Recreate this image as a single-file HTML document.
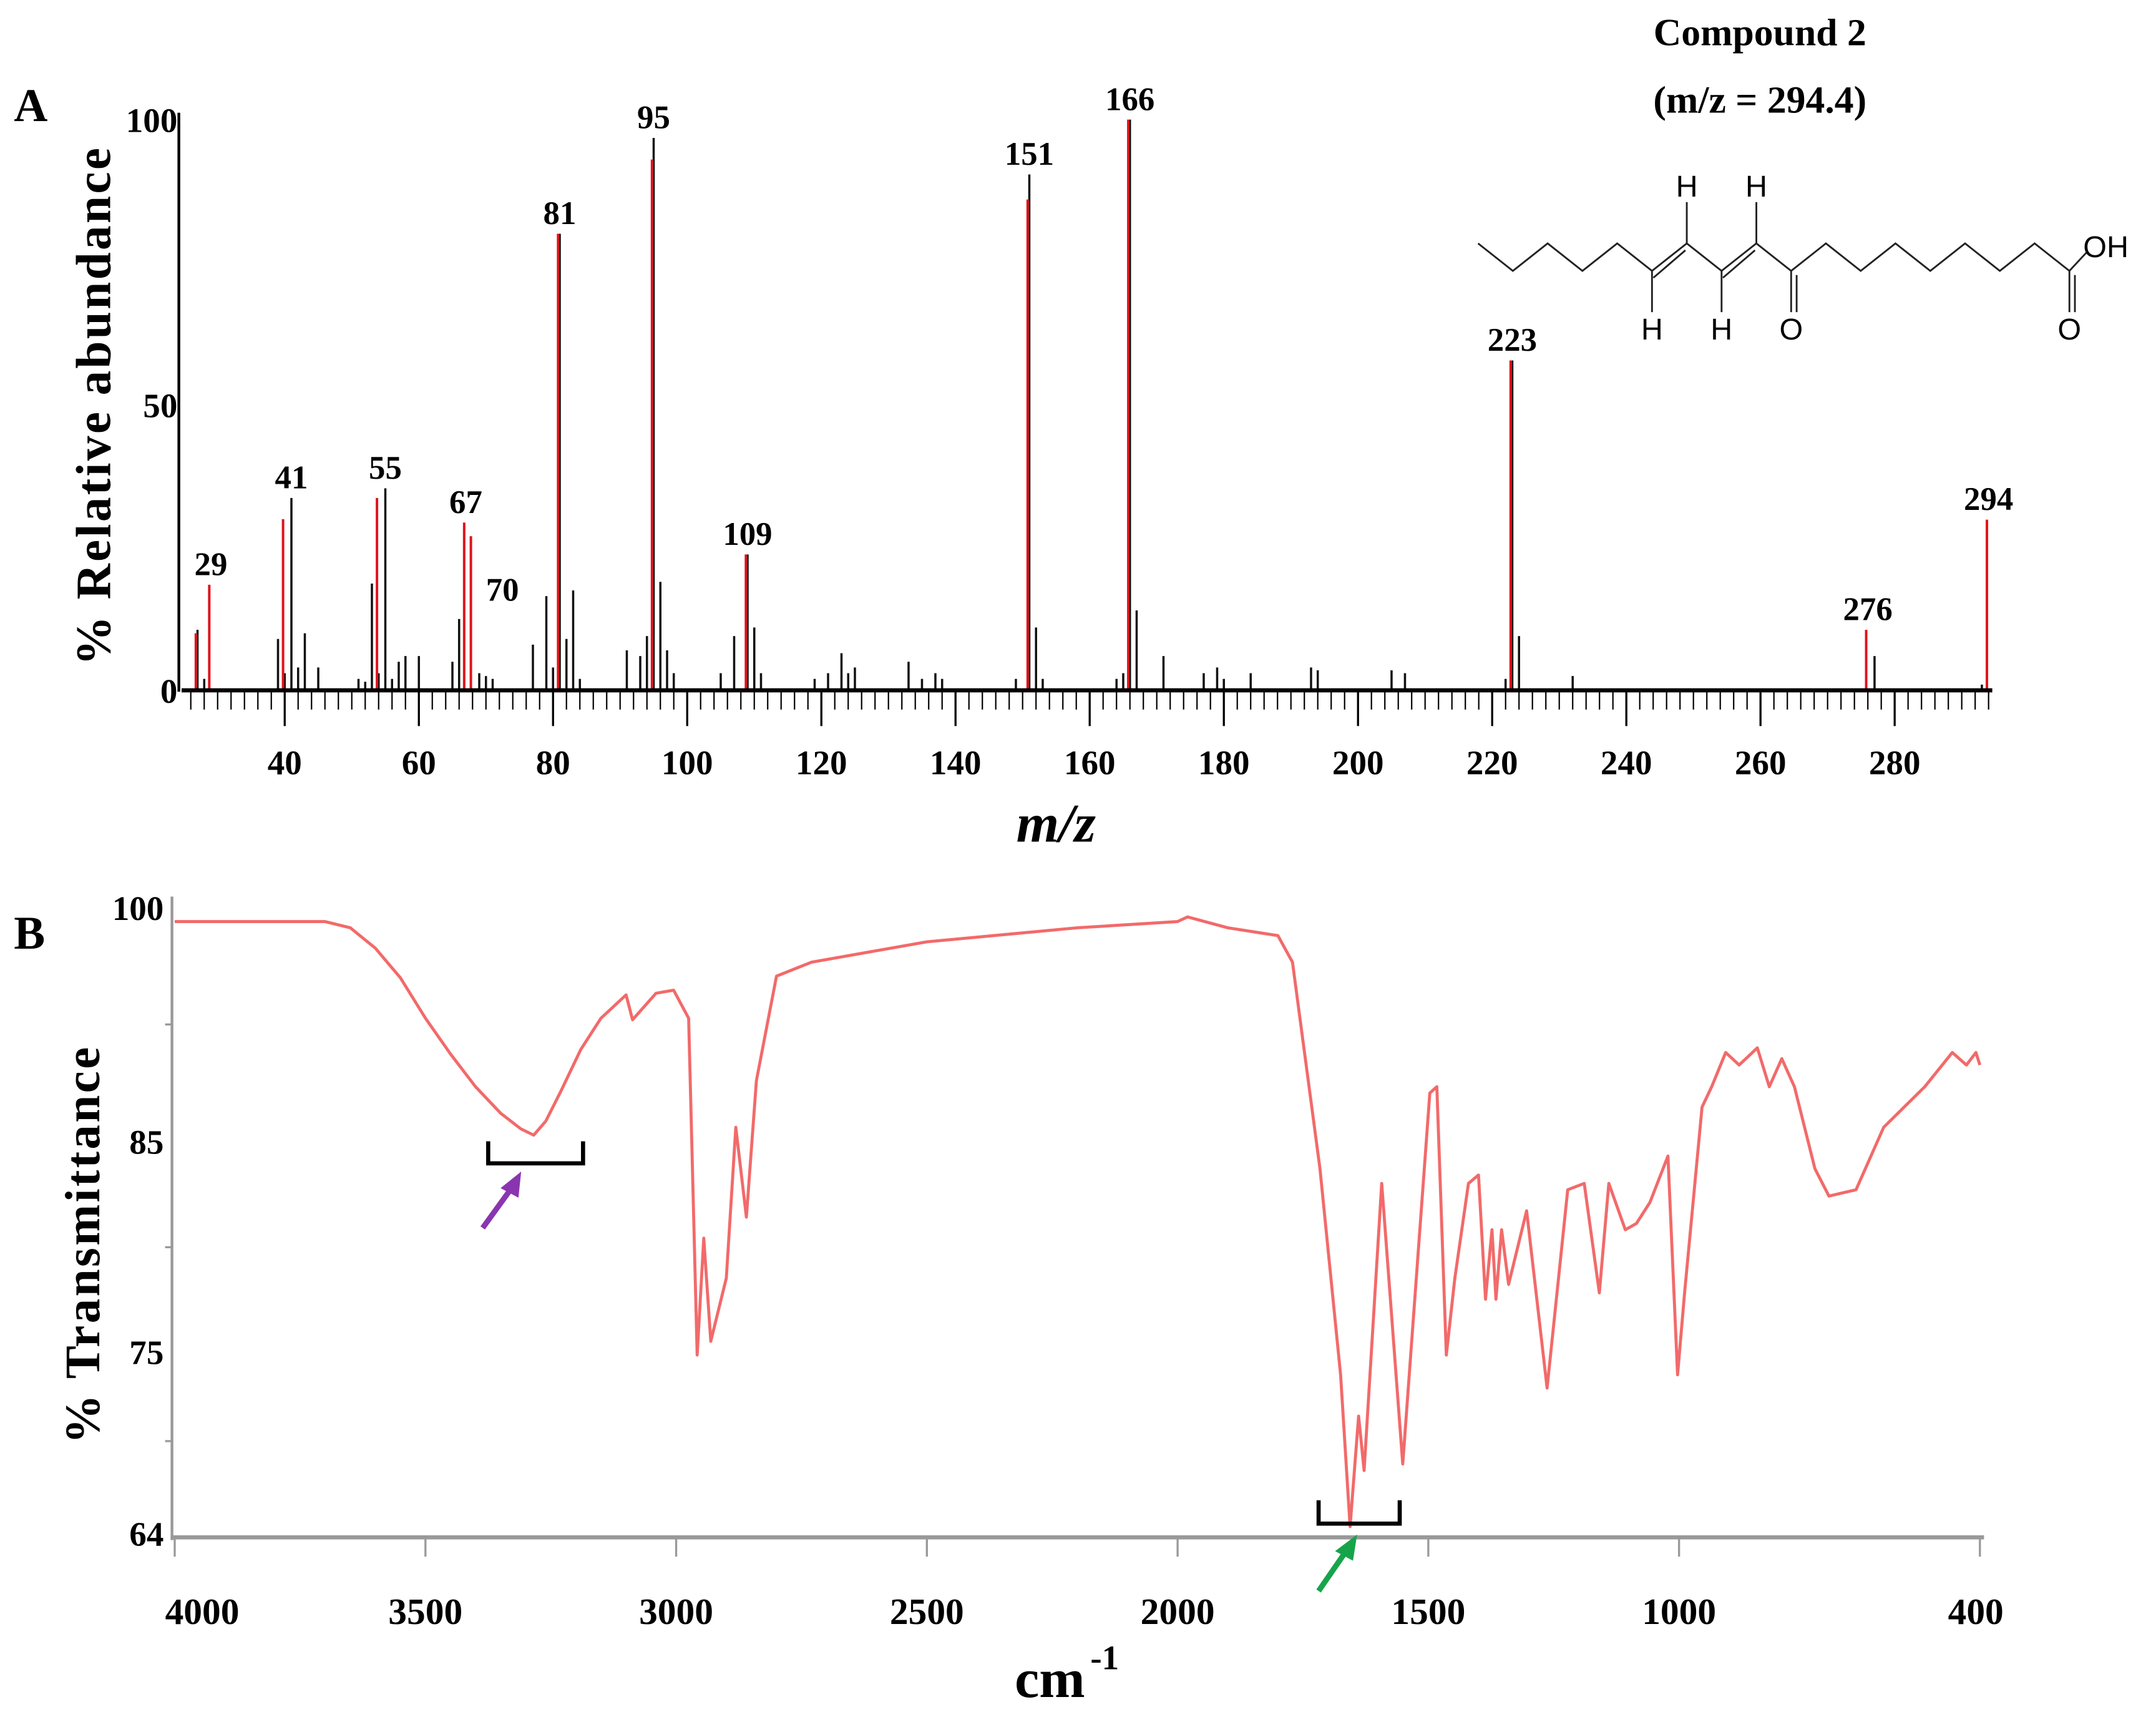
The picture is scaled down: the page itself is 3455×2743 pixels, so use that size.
<!DOCTYPE html>
<html><head><meta charset="utf-8"><style>
html,body{margin:0;padding:0;background:#fff}
svg{display:block}
text{font-family:"Liberation Serif",serif;font-weight:bold;fill:#000}
</style></head><body>
<svg id="fig" width="3455" height="2743" viewBox="0 0 1568 1245" xmlns="http://www.w3.org/2000/svg">
<rect width="1568" height="1245" fill="#fff"/>
<g id="panelA"></g>
<g id="mol" stroke="#222" stroke-width="1.3" fill="none"></g>
<g id="panelB"></g>
</svg>
<script>
// ---- Mass spectrum data ----
const msBlackMz = [27,28,39,40,41,42,43,45,51,52,53,54,55,56,57,58,60,65,66,69,70,71,77,79,80,81,82,83,84,91,93,94,95,96,97,98,105,107,109,110,111,119,121,123,124,125,133,135,137,138,149,151,152,153,164,165,166,167,171,177,179,180,184,193,194,205,207,222,223,224,232,277,293];
const msBlackVal = [10.6,2,9,3,33.7,4,10,4,2,1.5,18.7,3,35.4,2,5,6,6,5,12.5,3,2.5,2,8,16.5,4,80,9,17.5,2,7,6,9.5,96.8,19,7,3,3,9.5,23.8,11,3,2,3,6.5,3,4,5,2,3,2,2,90.4,11,2,2,3,100,14,6,3,4,2,3,4,3.5,3.5,3,2,57.8,9.5,2.5,6,1];
const msRedMz = [27,29,40,54,67,68,81,95,109,151,166,223,276,294];
const msRedVal = [10,18.5,30,33.7,29.4,27,80,93,23.8,86,100,57.8,10.6,29.9];
const msLabels = ['29','41','55','67','70','81','95','109','151','166','223','276','294'];
const msLabelMz = [29,41,55,67,70,81,95,109,151,166,223,276,294];
const msLabelVal = [18.5,33.7,35.4,29.4,14,80,96.8,23.8,90.4,100,57.8,10.6,29.9];
const msXTicks = [40,60,80,100,120,140,160,180,200,220,240,260,280];
const msYTicks = [0,50,100];
// ---- IR data ----
const irWn = [4000,3700,3650,3600,3550,3500,3450,3400,3350,3310,3284,3260,3230,3190,3150,3100,3087,3040,3005,2975,2958,2945,2931,2900,2881,2860,2840,2800,2730,2500,2200,2000,1980,1900,1800,1771,1716,1675,1656,1639,1628,1593,1551,1497,1483,1464,1447,1420,1400,1386,1373,1365,1354,1340,1304,1263,1222,1189,1159,1140,1107,1085,1058,1022,1003,989,954,935,907,880,844,820,795,770,729,701,647,592,510,455,427,408,400];
const irT = [99.1,99.1,98.7,97.4,95.5,92.9,90.6,88.5,86.8,85.8,85.4,86.3,88.2,90.9,92.9,94.4,92.8,94.5,94.7,92.9,74.8,80.4,75.5,78.5,85.9,81.4,88.9,95.6,96.5,97.8,98.7,99.1,99.4,98.7,98.2,96.5,83.7,73.6,64.4,71.1,67.8,83.0,68.2,88.1,88.5,74.8,78.5,83.0,83.4,77.5,80.8,77.5,80.8,78.2,81.7,72.8,82.7,83.0,77.8,83.0,80.8,81.1,82.1,84.3,73.6,77.8,87.2,88.5,90.7,89.9,91.0,88.5,90.3,88.5,83.7,82.4,82.7,85.9,88.5,90.7,89.9,90.7,89.9];
const irXTicks = [4000,3500,3000,2500,2000,1500,1000,400];
const irYTicks = [64,75,85,100];

const NS='http://www.w3.org/2000/svg';
function mk(tag, attrs, parent, txt){const e=document.createElementNS(NS,tag);for(const k in attrs)e.setAttribute(k,attrs[k]);if(txt!==undefined)e.textContent=txt;parent.appendChild(e);return e;}

// ---- Panel A ----
const A=document.getElementById('panelA');
const ax=m=>207+(m-40)*(1171/240);
const ay=v=>502-v*4.15;
let e;
e=mk('text',{x:10,y:88,'font-size':34},A,'A');


e=mk('line',{x1:130,y1:82,x2:130,y2:503,stroke:'#000','stroke-width':2},A);


for(const t of msYTicks){
  e=mk('text',{x:129,y:ay(t)+9,'font-size':25,'text-anchor':'end'},A,String(t));
  
  
}
e=mk('text',{x:0,y:0,'font-size':36,'text-anchor':'middle',transform:'translate(80,295) rotate(-90)','letter-spacing':'1.5'},A,'% Relative abundance');


for(let m=26;m<=294;m+=2){
  const major=(m%20===0);
  e=mk('line',{x1:ax(m),y1:502,x2:ax(m),y2:major?528:516,stroke:'#000','stroke-width':major?1.5:1},A);
  
  
}
for(const t of msXTicks){
  e=mk('text',{x:ax(t),y:563,'font-size':25,'text-anchor':'middle'},A,String(t));
  
  
}
e=mk('text',{x:768,y:612,'font-size':40,'text-anchor':'middle','font-style':'italic'},A,'m/z');


for(let i=0;i<msBlackMz.length;i++){
  e=mk('line',{x1:ax(msBlackMz[i]),y1:502,x2:ax(msBlackMz[i]),y2:ay(msBlackVal[i]),stroke:'#111','stroke-width':1.6},A);
  
  
}
for(let i=0;i<msRedMz.length;i++){
  e=mk('line',{x1:ax(msRedMz[i])-1.2,y1:502,x2:ax(msRedMz[i])-1.2,y2:ay(msRedVal[i]),stroke:'#e0121b','stroke-width':1.8},A);
  
  
}
e=mk('line',{x1:132,y1:502,x2:1449,y2:502,stroke:'#000','stroke-width':3},A);


for(let i=0;i<msLabels.length;i++){
  const dx = msLabels[i]==='70'?12:0;
  e=mk('text',{x:ax(msLabelMz[i])+dx,y:ay(msLabelVal[i])-7,'font-size':24,'text-anchor':'middle'},A,msLabels[i]);
  
  
}
e=mk('text',{x:1280,y:33,'font-size':28,'text-anchor':'middle'},A,'Compound 2');


e=mk('text',{x:1280,y:82,'font-size':28,'text-anchor':'middle'},A,'(m/z = 294.4)');



// ---- Molecule ----
const M=document.getElementById('mol');
let pts=[];
for(let i=0;i<18;i++){pts.push([1075+i*25.3,(i%2===0)?177:197]);}
e=mk('polyline',{points:pts.map(p=>p.join(',')).join(' ')},M);


function dbl(a,b){const p=pts[a],q=pts[b];e=mk('line',{x1:p[0]+1,y1:p[1]+5,x2:q[0]-1,y2:q[1]+5},M);}
dbl(5,6);dbl(7,8);
function sub(i,dy,label,dbo){const p=pts[i];
  e=mk('line',{x1:p[0],y1:p[1],x2:p[0],y2:p[1]+dy},M);
  if(dbo){e=mk('line',{x1:p[0]+4,y1:p[1]+3,x2:p[0]+4,y2:p[1]+dy},M);}
  e=mk('text',{x:p[0],y:dy>0?p[1]+dy+20:p[1]+dy-4,'font-size':22,'text-anchor':'middle',style:'font-family:"Liberation Sans",sans-serif;font-weight:normal',stroke:'none'},M,label);
  }
sub(5,30,'H');sub(6,-30,'H');sub(7,30,'H');sub(8,-30,'H');sub(9,30,'O',true);sub(17,30,'O',true);
e=mk('line',{x1:pts[17][0],y1:pts[17][1],x2:pts[17][0]+13,y2:pts[17][1]-14},M);


e=mk('text',{x:pts[17][0]+10,y:pts[17][1]-10,'font-size':22,style:'font-family:"Liberation Sans",sans-serif;font-weight:normal',stroke:'none'},M,'OH');



// ---- Panel B ----
const B=document.getElementById('panelB');
const bx=w=>127+(4000-w)*(1313/3600);
const yT=[64,75,85,100], yP=[1115,983,830,660];
function by(t){for(let i=0;i<3;i++){if(t<=yT[i+1]||i===2){return yP[i]+(t-yT[i])*(yP[i+1]-yP[i])/(yT[i+1]-yT[i]);}}}
e=mk('text',{x:10,y:690,'font-size':34},B,'B');


e=mk('line',{x1:125,y1:652,x2:125,y2:1120,stroke:'#999','stroke-width':2},B);


e=mk('line',{x1:124,y1:1118,x2:1443,y2:1118,stroke:'#999','stroke-width':3},B);


for(const t of irYTicks){
  e=mk('text',{x:119,y:by(t)+9,'font-size':25,'text-anchor':'end'},B,String(t));
  
  
}
for(const yy of [745,907,1048]){
  e=mk('line',{x1:120,y1:yy,x2:125,y2:yy,stroke:'#999','stroke-width':1.5},B);
  
  
}
e=mk('text',{x:0,y:0,'font-size':36,'text-anchor':'middle',transform:'translate(72,905) rotate(-90)','letter-spacing':'1.5'},B,'% Transmittance');


for(const t of irXTicks){
  e=mk('line',{x1:bx(t),y1:1118,x2:bx(t),y2:1132,stroke:'#999','stroke-width':1.5},B);
  
  
  e=mk('text',{x:bx(t)+(t===4000?20:(t===400?-3:0)),y:1181,'font-size':27,'text-anchor':'middle'},B,String(t));
  
  
}
e=mk('text',{x:738,y:1234,'font-size':40},B,'cm');


e=mk('text',{x:793,y:1214,'font-size':25},B,'-1');


let d='';
for(let i=0;i<irWn.length;i++){d+=(i?'L':'M')+bx(irWn[i]).toFixed(1)+','+by(irT[i]).toFixed(1);}
e=mk('path',{d:d,fill:'none',stroke:'#f26a6a','stroke-width':2.2,'stroke-linejoin':'round'},B);


e=mk('path',{d:'M355,830 V846 H424 V830',fill:'none',stroke:'#000','stroke-width':3},B);


e=mk('path',{d:'M959,1091 V1108 H1018 V1091',fill:'none',stroke:'#000','stroke-width':3},B);


e=mk('line',{x1:351,y1:893,x2:372,y2:864,stroke:'#8a35b0','stroke-width':4},B);


e=mk('polygon',{points:'379,852 364,864 377,871',fill:'#8a35b0'},B);


e=mk('line',{x1:959,y1:1157,x2:979,y2:1128,stroke:'#16a44a','stroke-width':4},B);


e=mk('polygon',{points:'987,1116 971,1128 984,1135',fill:'#16a44a'},B);


</script>
</body></html>
